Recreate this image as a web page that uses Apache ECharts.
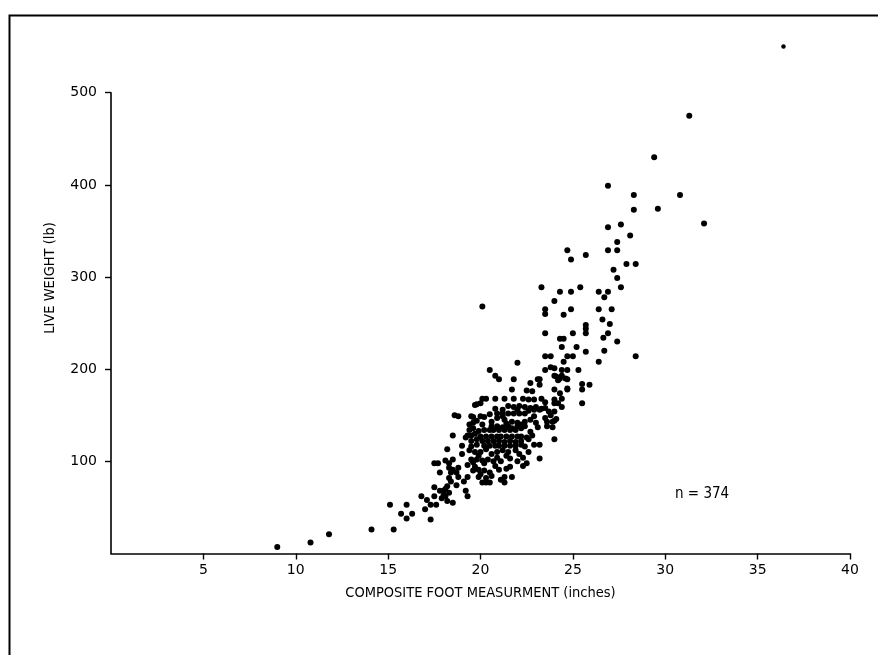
<!DOCTYPE html>
<html>
<head>
<meta charset="utf-8">
<script src="https://cdn.jsdelivr.net/npm/echarts@6/dist/echarts.min.js"></script>
<style>
  html, body { margin: 0; padding: 0; background: #fff; }
  #chart { width: 878px; height: 655px; }
</style>
</head>
<body>
<div id="chart"></div>
<script>
// tick labels
const xTicks = [5, 10, 15, 20, 25, 30, 35, 40];
const yTicks = [100, 200, 300, 400, 500];

const lowerTail = [
  [9.0, 7], [10.8, 12], [11.8, 21], [14.1, 26], [15.3, 26], [15.1, 53], [16.0, 53], [15.7, 43],
  [16.3, 43], [16.0, 38], [17.3, 37], [16.8, 62], [17.0, 48], [17.1, 58], [17.3, 53], [17.6, 53],
  [17.5, 62], [17.5, 72], [17.8, 68], [18.0, 68], [18.1, 62], [18.2, 57], [18.3, 66], [17.9, 60],
  [18.5, 55], [18.2, 73], [18.4, 78], [18.7, 74], [19.2, 68], [19.3, 62], [19.1, 78], [18.8, 83],
  [19.3, 83], [18.3, 82], [18.4, 88], [18.7, 88], [18.3, 93], [18.8, 93], [17.5, 98], [17.7, 98],
  [17.8, 88], [18.5, 91], [18.3, 98], [18.5, 102], [18.1, 101], [18.0, 63], [18.1, 70]
];

const mainCluster = [
  [18.2, 113], [18.5, 128], [19.0, 117], [19.3, 128], [19.0, 108], [19.3, 96], [19.5, 102], [19.7, 94],
  [19.6, 99], [18.6, 150], [19.5, 149], [18.8, 149],
  [20.1, 77], [20.3, 77], [20.5, 77], [21.3, 77], [21.1, 80],
  [19.9, 83], [20.3, 82], [20.6, 84], [21.3, 83], [21.7, 83], [20.0, 86],
  [19.6, 90], [19.9, 91], [20.2, 90], [20.5, 88], [21.0, 91], [21.4, 92], [21.6, 94], [22.3, 95],
  [22.5, 98], [20.8, 95],
  [19.8, 102], [20.1, 101], [20.4, 102], [20.7, 100], [20.9, 104], [21.1, 100], [21.4, 106], [21.6, 103],
  [22.0, 100], [22.3, 104], [23.2, 103], [20.2, 98], [19.9, 106], [20.6, 108],
  [19.4, 112], [19.7, 110], [20.0, 110], [20.3, 113], [21.2, 112], [21.5, 110], [21.9, 112], [22.1, 108],
  [22.6, 110], [20.9, 110],
  [19.5, 116], [19.8, 118], [20.2, 117], [20.5, 117], [20.8, 117], [21.0, 117], [21.3, 117], [21.6, 117],
  [21.9, 117], [22.2, 118], [22.4, 116], [22.9, 118], [23.2, 118],
  [19.5, 122], [19.8, 124], [20.1, 122], [20.4, 122], [20.7, 122], [21.0, 122], [21.3, 121], [21.6, 122],
  [21.9, 121], [22.2, 122], [24.0, 124],
  [19.2, 126], [19.5, 128], [19.7, 130], [20.0, 127], [20.3, 127], [20.6, 127], [20.9, 127], [21.1, 127],
  [21.4, 127], [21.7, 127], [22.0, 127], [22.2, 127], [22.5, 126], [22.8, 128], [22.6, 124],
  [19.4, 134], [19.6, 136], [19.9, 133], [20.2, 134], [20.5, 134], [20.7, 134], [21.0, 134], [21.3, 134],
  [21.6, 134], [21.9, 134], [22.2, 136], [22.4, 138], [22.7, 132],
  [20.6, 138], [20.9, 138], [21.2, 137], [21.5, 138], [21.7, 136], [22.0, 138], [23.1, 137], [23.6, 138],
  [23.9, 137],
  [19.4, 140], [19.6, 142], [19.8, 144], [20.1, 140], [20.6, 143], [20.9, 147], [21.3, 145], [21.4, 141],
  [21.7, 143], [22.0, 142], [22.2, 140], [22.4, 143], [22.7, 145], [23.0, 142], [23.6, 143], [23.9, 143],
  [23.5, 147], [22.9, 149], [21.2, 149], [20.0, 149], [20.2, 148], [19.6, 148],
  [20.5, 151], [20.9, 152], [21.2, 152], [21.5, 152], [21.8, 152], [22.1, 152], [22.4, 152], [22.6, 155],
  [22.9, 156], [23.2, 156], [23.5, 158], [23.8, 150],
  [21.5, 160], [21.8, 159], [22.1, 160], [22.4, 159], [22.7, 158], [23.0, 159], [23.3, 157], [23.7, 154],
  [24.0, 154], [24.4, 159], [24.0, 163], [20.8, 157], [21.2, 156], [22.0, 156], [24.0, 144], [24.1, 146],
  [19.7, 161], [20.0, 163], [19.8, 162], [20.1, 168], [20.3, 168], [20.8, 168], [21.3, 168], [21.8, 168],
  [22.3, 168], [22.6, 167], [22.9, 167], [23.3, 168], [24.4, 168], [23.5, 164], [24.2, 163], [24.0, 167],
  [22.5, 177], [22.8, 176], [22.7, 185], [23.2, 189], [21.7, 178], [21.8, 189], [23.2, 183], [24.0, 178],
  [24.3, 174], [24.7, 179], [21.0, 189], [20.8, 193], [20.5, 199], [24.2, 188], [24.0, 193], [24.6, 190]
];

const upperSpread = [
  [31.3, 475], [29.4, 430], [30.8, 389], [28.3, 389], [29.6, 374], [28.3, 373], [26.9, 399],
  [32.1, 358], [26.9, 354], [27.6, 357], [28.1, 345], [27.4, 338], [26.9, 329], [27.4, 329], [24.7, 329],
  [24.9, 319], [25.7, 324], [27.9, 314], [28.4, 314], [27.2, 308], [27.4, 299], [27.6, 289], [23.3, 289],
  [24.3, 284], [24.9, 284], [25.4, 289], [26.4, 284], [26.9, 284], [26.7, 278], [24.0, 274], [23.5, 265],
  [23.5, 260], [24.9, 265], [26.4, 265], [27.1, 265], [24.5, 259], [26.6, 254], [27.0, 249], [25.7, 248],
  [25.7, 244], [25.7, 239], [23.5, 239], [25.0, 239], [26.9, 239], [24.3, 233], [24.5, 233], [26.65, 234],
  [27.4, 230], [24.4, 224], [25.2, 224], [25.7, 219], [26.7, 220], [23.5, 214], [23.8, 214], [24.7, 214],
  [25.0, 214], [28.4, 214], [22.0, 207], [24.5, 208], [26.4, 208], [23.5, 199], [23.8, 202], [24.0, 201],
  [24.4, 199], [24.7, 199], [25.3, 199], [24.1, 192], [24.3, 190], [24.4, 193], [24.7, 189], [23.1, 189],
  [25.5, 184], [25.5, 178], [25.9, 183], [24.7, 178], [25.5, 163], [20.1, 268]
];

const farOutlier = [[36.4, 550]];

const sampleLabel = "n = 374";

const chart = echarts.init(document.getElementById("chart"));

const tickFont = { color: "#000", fontSize: 14, fontFamily: "DejaVu Sans" };
const nameFont = { color: "#000", fontSize: 14.5, fontFamily: "DejaVu Sans Condensed" };

const option = {
  backgroundColor: "#fff",
  animation: false,
  grid: { left: 111, right: 28, top: 92.7, bottom: 101.5 },
  xAxis: {
    type: "value",
    min: 0,
    max: 40,
    interval: 5,
    name: "COMPOSITE FOOT MEASURMENT (inches)",
    nameLocation: "middle",
    nameGap: 32,
    nameTextStyle: nameFont,
    axisLine: { lineStyle: { color: "#000", width: 1.6 } },
    axisTick: { inside: false, length: 6, lineStyle: { color: "#000", width: 1.4 }, customValues: xTicks },
    axisLabel: { margin: 10, customValues: xTicks, ...tickFont },
    splitLine: { show: false }
  },
  yAxis: {
    type: "value",
    min: 0,
    max: 500,
    interval: 100,
    axisLine: { lineStyle: { color: "#000", width: 1.6 } },
    axisTick: { inside: false, length: 6, lineStyle: { color: "#000", width: 1.4 }, customValues: yTicks },
    axisLabel: { margin: 14, customValues: yTicks, ...tickFont },
    splitLine: { show: false }
  },
  graphic: [
    {
      type: "rect",
      left: 7, top: 13,
      shape: { width: 900, height: 700 },
      style: { fill: null, stroke: "#000", lineWidth: 2 }
    },
    {
      type: "text",
      x: 50, y: 278,
      rotation: Math.PI / 2,
      style: {
        text: "LIVE WEIGHT (lb)", fill: "#000", fontSize: 14.5,
        fontFamily: "DejaVu Sans Condensed", align: "center", verticalAlign: "middle"
      }
    },
    {
      type: "text",
      left: 675, top: 487,
      style: { text: sampleLabel, fill: "#000", fontSize: 15, fontFamily: "DejaVu Sans Condensed" }
    }
  ],
  series: [
    {
      type: "scatter",
      data: lowerTail.concat(mainCluster, upperSpread),
      symbolSize: 6,
      itemStyle: { color: "#000", opacity: 1 },
      clip: false
    },
    {
      type: "scatter",
      data: farOutlier,
      symbolSize: 4.5,
      itemStyle: { color: "#000", opacity: 1 },
      clip: false
    }
  ]
};

chart.setOption(option);
</script>
</body>
</html>
